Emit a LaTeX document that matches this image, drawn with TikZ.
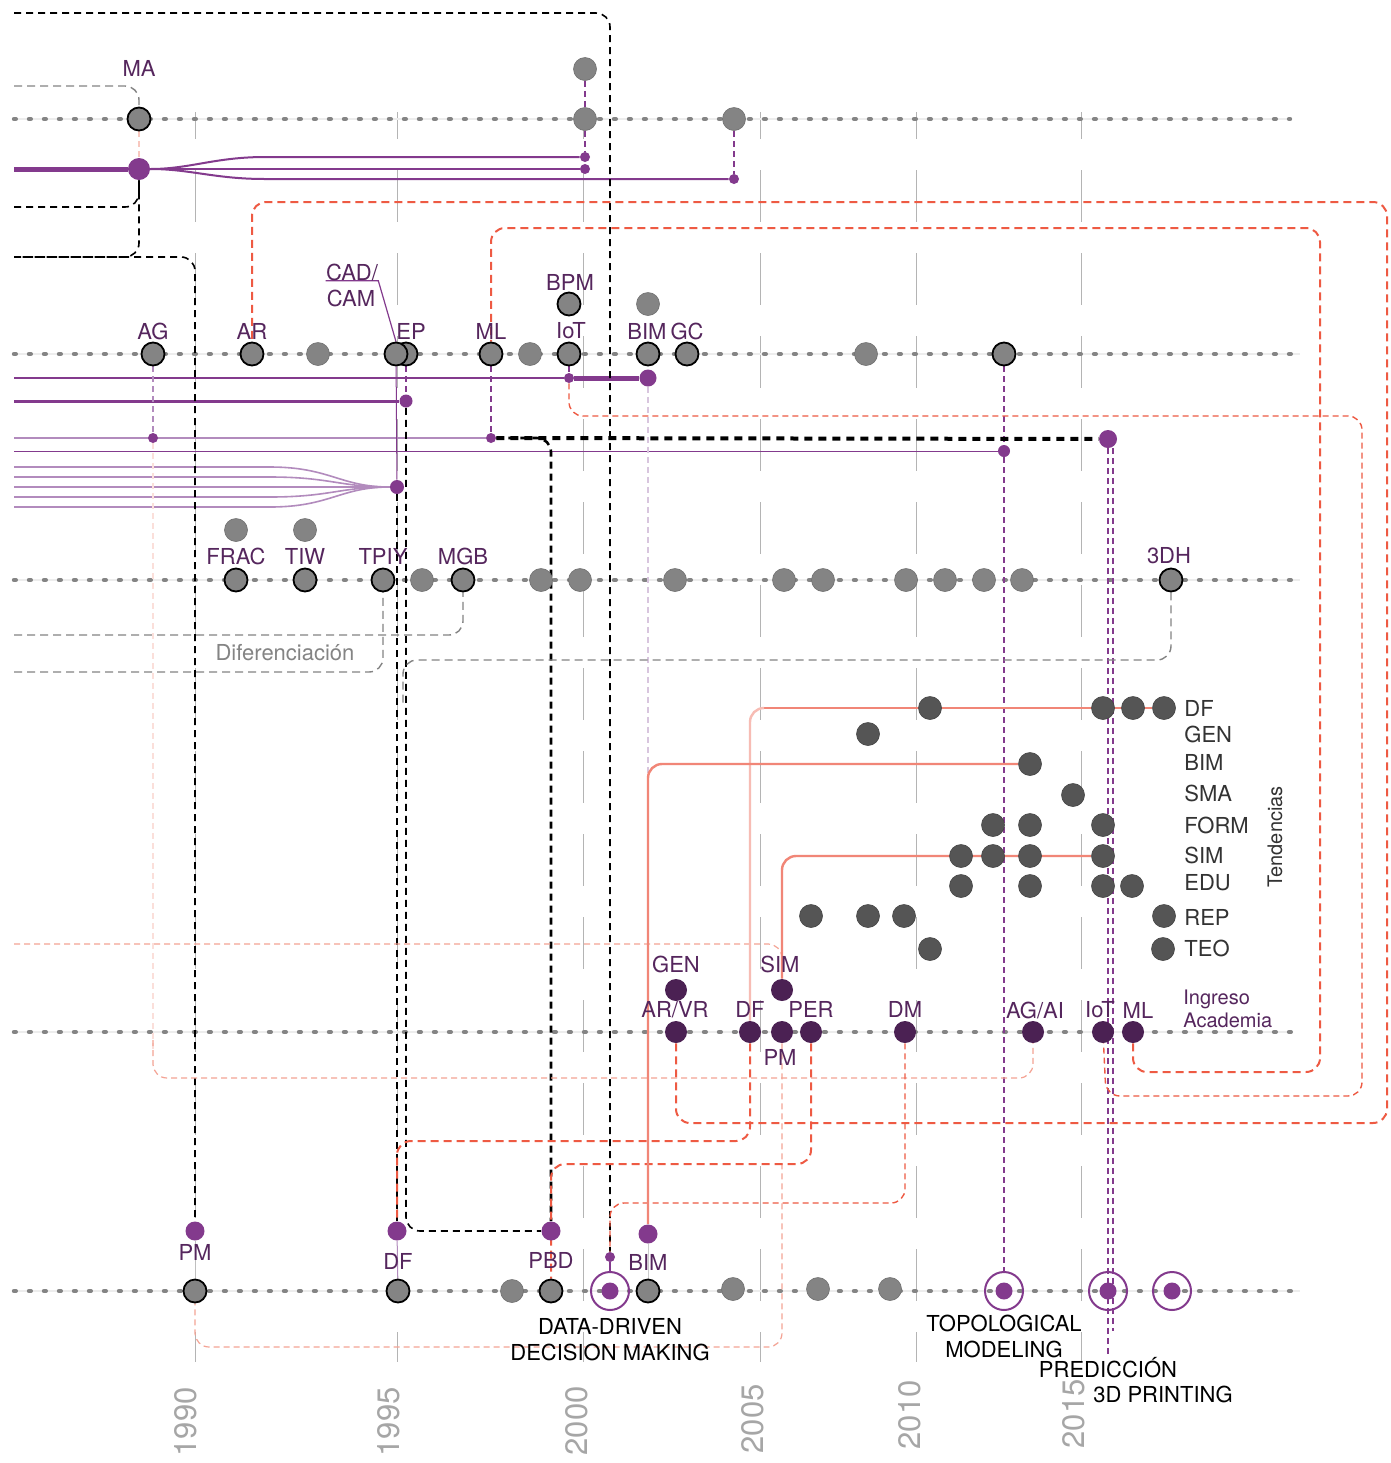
\documentclass[tikz,border=0pt]{standalone}
\usepackage{fontspec}
\setmainfont{TeX Gyre Heros}
\usetikzlibrary{backgrounds}

\definecolor{dotgray}{HTML}{848484}
\definecolor{tgray}{HTML}{555555}
\definecolor{apurple}{HTML}{4B2153}
\definecolor{lpurple}{HTML}{55265D}
\definecolor{mpurple}{HTML}{833A8D}
\definecolor{softpurple}{HTML}{B28BBD}
\definecolor{redline}{HTML}{EE5A43}
\definecolor{salmon}{HTML}{F18677}
\definecolor{pinkline}{HTML}{F4A394}
\definecolor{gridgray}{HTML}{B4B4B4}
\definecolor{yeargray}{HTML}{A6A6A6}

\tikzset{
  gnode/.style={circle, fill=dotgray, draw=dotgray!85!black, line width=0.3pt, minimum size=11.5pt, inner sep=0pt},
  gnodeb/.style={gnode, draw=black, line width=0.9pt},
  tnode/.style={circle, fill=tgray, draw=tgray!80!black, line width=0.3pt, minimum size=11.5pt, inner sep=0pt},
  anode/.style={circle, fill=apurple, minimum size=11pt, inner sep=0pt},
  pnode/.style={circle, fill=mpurple, minimum size=9.5pt, inner sep=0pt},
  psmall/.style={pnode, minimum size=5pt},
  ring/.style={circle, draw=mpurple, line width=1pt, minimum size=19pt, inner sep=0pt},
  lab/.style={text=lpurple, font=\fontsize{11}{13}\selectfont, inner sep=0pt},
  tlab/.style={text=black!80, font=\fontsize{11}{13}\selectfont, anchor=west, inner sep=0pt},
  blab/.style={text=black, font=\fontsize{11}{13}\selectfont, align=center, inner sep=0pt},
  yearlab/.style={text=yeargray, font=\fontsize{15.5}{18}\selectfont, rotate=90, anchor=base east, inner sep=0pt},
  yearline/.style={gridgray, line width=0.5pt, dash pattern=on 26pt off 15.5pt, dash phase=12.5pt},
  track/.style={dotgray, line width=2.2pt, line cap=round, dash pattern=on 0.9pt off 6.6pt},
  trackbase/.style={black!7, line width=0.8pt},
  pline/.style={mpurple, line width=1pt},
  plight/.style={softpurple, line width=1pt},
  pdash/.style={mpurple, line width=0.6pt, dash pattern=on 3pt off 2pt},
  reddash/.style={redline, line width=1pt, dash pattern=on 4pt off 2.5pt, rounded corners=7pt},
  redthin/.style={redline, line width=0.7pt, dash pattern=on 3pt off 2pt, rounded corners=7pt},
  pinkdash/.style={pinkline, line width=0.6pt, dash pattern=on 3pt off 2pt, rounded corners=7pt},
  blkdash/.style={black, line width=0.8pt, dash pattern=on 3.5pt off 2.5pt, rounded corners=7pt},
  blkthick/.style={black, line width=2pt, dash pattern=on 4pt off 3pt},
  graydash/.style={dotgray, line width=0.7pt, dash pattern=on 4pt off 2.5pt, rounded corners=7pt},
  salmonline/.style={salmon, line width=1.2pt, rounded corners=7pt}
}

\begin{document}
\begin{tikzpicture}[x=0.5pt, y=-0.5pt]
    \useasboundingbox (0,0) rectangle (1391,1463);

    % left ends
    \coordinate (w0) at (14,13);
    \coordinate (w1) at (14,169);
    \coordinate (w2) at (14,378);
    \coordinate (w3) at (14,401);
    \coordinate (w4) at (14,438);
    \coordinate (w5) at (14,451);
    \coordinate (w6) at (14,944);
    \coordinate (w7) at (14,207);
    \coordinate (w8) at (14,257);
    \coordinate (w9) at (14,86);
    \coordinate (w10) at (14,635);
    \coordinate (w11) at (14,672);
    \coordinate (f1) at (14,467);
    \coordinate (f2) at (14,477);
    \coordinate (f3) at (14,487);
    \coordinate (f4) at (14,497);
    \coordinate (f5) at (14,507);

    % row 1
    \node[gnodeb] (ma1) at (139,119) {};
    \node[gnode] (r1a) at (585,119) {};
    \node[gnode] (r1b) at (585,69) {};
    \node[gnode] (r1c) at (734,119) {};
    \node[pnode, minimum size=11pt] (ma2) at (139,169) {};
    \node[psmall] (r1d) at (585,157) {};
    \node[psmall] (r1e) at (585,169) {};
    \node[psmall] (r1f) at (734,179) {};
    \node[lab] (ma-l) at (139,68) {MA};

    % row 2
    \node[gnodeb] (ag) at (153,354) {};
    \node[gnodeb] (ar) at (252,354) {};
    \node[gnode] (r2a) at (318,354) {};
    \node[gnodeb] (ep1) at (406,354) {};
    \node[gnodeb] (ep) at (396,354) {};
    \node[gnodeb] (ml) at (491,354) {};
    \node[gnode] (r2b) at (530,354) {};
    \node[gnodeb] (iot) at (569,354) {};
    \node[gnodeb] (bpm) at (569,304) {};
    \node[gnodeb] (bim) at (648,354) {};
    \node[gnode] (r2c) at (648,304) {};
    \node[gnodeb] (gc) at (687,354) {};
    \node[gnode] (r2d) at (866,354) {};
    \node[gnodeb] (topo) at (1004,354) {};

    \node[psmall] (iot-d) at (569,378) {};
    \node[pnode, minimum size=8.5pt] (bim-d) at (648,378) {};
    \node[pnode, minimum size=6.5pt] (ep-d) at (406,401) {};
    \node[psmall] (ag-d) at (153,438) {};
    \node[psmall] (ml-d) at (491,438) {};
    \node[pnode, minimum size=6pt] (topo-d) at (1004,451) {};
    \node[pnode, minimum size=7pt] (cad-d) at (397,487) {};
    \node[pnode, minimum size=9pt] (pred-d) at (1108,439) {};

    \node[lab] (ag-l) at (153,331) {AG};
    \node[lab] (ar-l) at (252,331) {AR};
    \node[lab] (ep-l) at (411,331) {EP};
    \node[lab] (ml-l) at (491,331) {ML};
    \node[lab] (iot-l) at (571,331) {IoT};
    \node[lab] (bpm-l) at (570,282) {BPM};
    \node[lab] (bim-l) at (647,331) {BIM};
    \node[lab] (gc-l) at (687,331) {GC};
    \node[lab] (cad-l) at (352,272) {CAD/};
    \node[lab] (cam-l) at (351,298) {CAM};

    % row 3
    \node[gnodeb] (frac) at (236,580) {};
    \node[gnode] (r3a) at (236,530) {};
    \node[gnodeb] (tiw) at (305,580) {};
    \node[gnode] (r3b) at (305,530) {};
    \node[gnodeb] (tpiy) at (383,580) {};
    \node[gnode] (r3c) at (422,580) {};
    \node[gnodeb] (mgb) at (463,580) {};
    \node[gnode] (r3d) at (541,580) {};
    \node[gnode] (r3e) at (580,580) {};
    \node[gnode] (r3f) at (675,580) {};
    \node[gnode] (r3g) at (784,580) {};
    \node[gnode] (r3h) at (823,580) {};
    \node[gnode] (r3i) at (906,580) {};
    \node[gnode] (r3j) at (945,580) {};
    \node[gnode] (r3k) at (984,580) {};
    \node[gnode] (r3l) at (1022,580) {};
    \node[gnodeb] (tdh) at (1171,580) {};

    \node[lab] (frac-l) at (236,556) {FRAC};
    \node[lab] (tiw-l) at (305,556) {TIW};
    \node[lab] (tpiy-l) at (383,556) {TPIY};
    \node[lab] (mgb-l) at (463,556) {MGB};
    \node[lab] (tdh-l) at (1169,556) {3DH};
    \node[text=dotgray, font=\fontsize{11}{13}\selectfont, inner sep=0pt] (dif-l) at (285,653) {Diferenciación};

    % tendencias
    \node[tnode] (tdf1) at (930,708) {};
    \node[tnode] (tdf2) at (1103,708) {};
    \node[tnode] (tdf3) at (1133,708) {};
    \node[tnode] (tdf4) at (1164,708) {};
    \node[tnode] (tgen1) at (868,734) {};
    \node[tnode] (tbim1) at (1030,764) {};
    \node[tnode] (tsma1) at (1073,795) {};
    \node[tnode] (tform1) at (993,825) {};
    \node[tnode] (tform2) at (1030,825) {};
    \node[tnode] (tform3) at (1103,825) {};
    \node[tnode] (tsim1) at (961,856) {};
    \node[tnode] (tsim2) at (993,856) {};
    \node[tnode] (tsim3) at (1030,856) {};
    \node[tnode] (tsim4) at (1103,856) {};
    \node[tnode] (tedu1) at (961,886) {};
    \node[tnode] (tedu2) at (1030,886) {};
    \node[tnode] (tedu3) at (1103,886) {};
    \node[tnode] (tedu4) at (1132,886) {};
    \node[tnode] (trep1) at (811,916) {};
    \node[tnode] (trep2) at (868,916) {};
    \node[tnode] (trep3) at (904,916) {};
    \node[tnode] (trep4) at (1164,916) {};
    \node[tnode] (tteo1) at (930,949) {};
    \node[tnode] (tteo2) at (1163,949) {};

    \node[tlab] (tdf-l) at (1184,708) {DF};
    \node[tlab] (tgen-l) at (1184,734) {GEN};
    \node[tlab] (tbim-l) at (1184,762) {BIM};
    \node[tlab] (tsma-l) at (1184,793) {SMA};
    \node[tlab] (tform-l) at (1184,825) {FORM};
    \node[tlab] (tsim-l) at (1184,855) {SIM};
    \node[tlab] (tedu-l) at (1184,883) {EDU};
    \node[tlab] (trep-l) at (1184,917) {REP};
    \node[tlab] (tteo-l) at (1184,948) {TEO};
    \node[text=black!80, font=\fontsize{10}{12}\selectfont, rotate=90, inner sep=0pt] (tend) at (1275,837) {Tendencias};

    % row 4
    \node[anode] (arvr) at (676,1032) {};
    \node[anode] (gen) at (676,990) {};
    \node[anode] (df4) at (750,1032) {};
    \node[anode] (sim) at (782,990) {};
    \node[anode] (pm4) at (782,1032) {};
    \node[anode] (per) at (811,1032) {};
    \node[anode] (dm) at (905,1032) {};
    \node[anode] (agai) at (1033,1032) {};
    \node[anode] (iot4) at (1103,1032) {};
    \node[anode] (ml4) at (1133,1032) {};

    \node[lab] (gen-l) at (676,964) {GEN};
    \node[lab] (arvr-l) at (675,1010) {AR/VR};
    \node[lab] (df4-l) at (750,1009) {DF};
    \node[lab] (sim-l) at (780,964) {SIM};
    \node[lab] (pm4-l) at (780,1057) {PM};
    \node[lab] (per-l) at (811,1009) {PER};
    \node[lab] (dm-l) at (905,1009) {DM};
    \node[lab] (agai-l) at (1035,1010) {AG/AI};
    \node[lab] (iot4-l) at (1100,1010) {IoT};
    \node[lab] (ml4-l) at (1138,1010) {ML};
    \node[lab, font=\fontsize{10}{12}\selectfont, anchor=base west] (ing1) at (1183,1004) {Ingreso};
    \node[lab, font=\fontsize{10}{12}\selectfont, anchor=base west] (ing2) at (1183,1027) {Academia};

    % row 5
    \node[gnodeb] (pm5) at (195,1291) {};
    \node[pnode] (pm5d) at (195,1231) {};
    \node[gnodeb] (df5) at (398,1291) {};
    \node[pnode] (df5d) at (397,1231) {};
    \node[gnode] (r5a) at (512,1291) {};
    \node[gnodeb] (pbd5) at (551,1291) {};
    \node[pnode] (pbd5d) at (551,1231) {};
    \node[ring] (dd5) at (610,1291) {};
    \node[pnode, minimum size=8.5pt] (dd5i) at (610,1291) {};
    \node[psmall] (dd5s) at (610,1257) {};
    \node[gnodeb] (bim5) at (648,1291) {};
    \node[pnode] (bim5d) at (648,1234) {};
    \node[gnode] (r5b) at (733,1289) {};
    \node[gnode] (r5c) at (818,1289) {};
    \node[gnode] (r5d) at (890,1289) {};
    \node[ring] (topo5) at (1004,1291) {};
    \node[pnode, minimum size=8.5pt] (topo5i) at (1004,1291) {};
    \node[ring] (pred5) at (1108,1291) {};
    \node[pnode, minimum size=8.5pt] (pred5i) at (1108,1291) {};
    \node[ring] (prt5) at (1172,1291) {};
    \node[pnode, minimum size=8.5pt] (prt5i) at (1172,1291) {};

    \node[lab] (pm5-l) at (195,1252) {PM};
    \node[lab] (df5-l) at (398,1261) {DF};
    \node[lab] (pbd5-l) at (551,1260) {PBD};
    \node[lab] (bim5-l) at (648,1262) {BIM};
    \node[blab] (dd-l) at (610,1340) {DATA-DRIVEN\\DECISION MAKING};
    \node[blab] (topo-l) at (1004,1336) {TOPOLOGICAL\\MODELING};
    \node[blab, anchor=base] (pred-l) at (1108,1377) {PREDICCIÓN};
    \node[blab, anchor=base] (prt-l) at (1163,1402) {3D PRINTING};

    % years
    \node[yearlab] (y1990) at (196,1387) {1990};
    \node[yearlab] (y1995) at (399,1387) {1995};
    \node[yearlab] (y2000) at (587,1386) {2000};
    \node[yearlab] (y2005) at (763,1384) {2005};
    \node[yearlab] (y2010) at (920,1380) {2010};
    \node[yearlab] (y2015) at (1084,1379) {2015};

    \begin{pgfonlayer}{background}
    \fill[white] (0,0) rectangle (1391,1463);

    % grid
    \draw[yearline] (195,112) -- (195,1362);
    \draw[yearline] (397,112) -- (397,1362);
    \draw[yearline] (583,112) -- (583,1362);
    \draw[yearline] (760,112) -- (760,1362);
    \draw[yearline] (916,112) -- (916,1362);
    \draw[yearline] (1081,112) -- (1081,1362);

    % tracks
    \draw[trackbase] (14,119) -- (1290,119);
    \draw[trackbase] (14,354) -- (1300,354);
    \draw[trackbase] (14,580) -- (1300,580);
    \draw[trackbase] (14,1032) -- (1292,1032);
    \draw[trackbase] (14,1291) -- (1300,1291);
    \draw[track] (14,119) -- (1290,119);
    \draw[track] (14,354) -- (1300,354);
    \draw[track] (14,580) -- (1300,580);
    \draw[track] (14,1032) -- (1292,1032);
    \draw[track] (14,1291) -- (1300,1291);

    % purple links
    \draw[pline, line width=2.5pt] (w1) -- (ma2);
    \draw[pline] (ma2) .. controls (190,169) and (215,157) .. (265,157) -- (r1d);
    \draw[pline] (ma2) -- (r1e);
    \draw[pline] (ma2) .. controls (190,169) and (215,179) .. (265,179) -- (r1f);
    \draw[pdash] (r1b) -- (r1a) -- (r1d);
    \draw[pdash] (r1c) -- (r1f);
    \draw[pinkdash, pinkline!60] (ma1) -- (ma2);

    \draw[pline] (w2) -- (iot-d);
    \draw[pline, line width=2.5pt] (iot-d) -- (bim-d);
    \draw[pline, line width=1.5pt] (w3) -- (ep-d);
    \draw[plight, line width=1.3pt] (w4) -- (ml-d);
    \draw[pline, line width=0.5pt] (w5) -- (topo-d);
    \draw[plight, line width=0.8pt] (f1) -- (270,467) .. controls (330,467) and (340,487) .. (cad-d);
    \draw[plight, line width=0.8pt] (f2) -- (270,477) .. controls (330,477) and (340,487) .. (cad-d);
    \draw[plight, line width=0.8pt] (f3) -- (cad-d);
    \draw[plight, line width=0.8pt] (f4) -- (270,497) .. controls (330,497) and (340,487) .. (cad-d);
    \draw[plight, line width=0.8pt] (f5) -- (270,507) .. controls (330,507) and (340,487) .. (cad-d);
    \draw[pline, line width=0.6pt] (cad-l.south west) -- (cad-l.south east) -- (ep.north);

    \draw[pdash, softpurple] (ag) -- (ag-d);
    \draw[pdash] (ml) -- (ml-d);
    \draw[pdash] (iot) -- (iot-d);
    \draw[pdash] (ep1) -- (ep-d);
    \draw[pline, line width=0.5pt] (ep) -- (cad-d);
    \draw[pdash] (topo) -- (topo-d);
    \draw[pdash] (topo-d) -- (topo5);
    \draw[pdash, softpurple!50] (bim-d) -- (bim5d);
    \draw[pdash] (pred-d) -- (pred-l);
    \draw[pdash] ([xshift=2.5pt]pred-d.south) -- ([xshift=2.5pt,yshift=-10pt]pred5.south);

    \draw[black!25, line width=0.5pt] (pm5d) -- (pm5);
    \draw[softpurple, line width=0.5pt] (df5d) -- (df5);
    \draw[black!20, line width=0.5pt] (bim5d) -- (bim5);
    \draw[pline] (dd5s) -- (dd5);

    % black dashed
    \draw[blkdash] (w0) -- (dd5s |- w0) -- (dd5s);
    \draw[blkdash] (w7) -- (ma2 |- w7) -- (ma2);
    \draw[blkdash] (ma2) -- (ma2 |- w8) -- (w8);
    \draw[blkdash] (w8) -- (pm5d |- w8) -- (pm5d);
    \draw[blkdash] (cad-d) -- (df5d);
    \draw[blkdash] (ep-d) -- (ep-d |- pbd5d) -- (pbd5d);
    \draw[blkdash, line width=1.3pt] (ml-d) -- (ml-d -| pbd5d) -- (pbd5d);
    \draw[blkthick] (ml-d) -- (pred-d);

    % gray dashed
    \draw[graydash] (w9) -- (ma1 |- w9) -- (ma1);
    \draw[graydash] (w10) -- (mgb |- w10) -- (mgb);
    \draw[graydash] (w11) -- (tpiy |- w11) -- (tpiy);
    \draw[graydash] (tdh) -- (tdh |- 0,660) -- (403,660) -- (403,705);

    % red dashed
    \draw[reddash] (arvr) -- (arvr |- 0,1123) -- (1387,1123) -- (1387,202) -- (ar |- 0,202) -- (ar);
    \draw[reddash] (ml4) -- (ml4 |- 0,1072) -- (1320,1072) -- (1320,228) -- (ml |- 0,228) -- (ml);
    \draw[redthin] (iot-d) -- (iot-d |- 0,416) -- (1362,416) -- (1362,1096) -- (1106,1096) -- (iot4);
    \draw[pinkdash, pinkline!35] (ag-d) -- (153,1050);
    \draw[pinkdash] (153,1040) -- (153,1078) -- (agai |- 0,1078) -- (agai);
    \draw[pinkdash] (w6) -- (sim |- w6) -- (sim);
    \draw[pinkdash] (pm4) -- (pm4 |- 0,1347) -- (pm5 |- 0,1347) -- (pm5);
    \draw[reddash] (df4) -- (df4 |- 0,1141) -- (df5d |- 0,1141) -- (df5d);
    \draw[reddash] (per) -- (per |- 0,1164) -- (pbd5d |- 0,1164) -- (pbd5);
    \draw[redthin] (dm) -- (dm |- 0,1203) -- (dd5s |- 0,1203) -- (dd5s);

    % tendencias links
    \draw[salmonline] (tdf4) -- (762,708);
    \draw[salmonline, salmon!55] (762,708) -- (df4 |- tdf4) -- (df4);
    \draw[salmonline] (tbim1) -- (bim5d |- tbim1) -- (bim5d);
    \draw[salmonline] (tsim4) -- (sim |- tsim4) -- (sim);
    \end{pgfonlayer}
\end{tikzpicture}
\end{document}
